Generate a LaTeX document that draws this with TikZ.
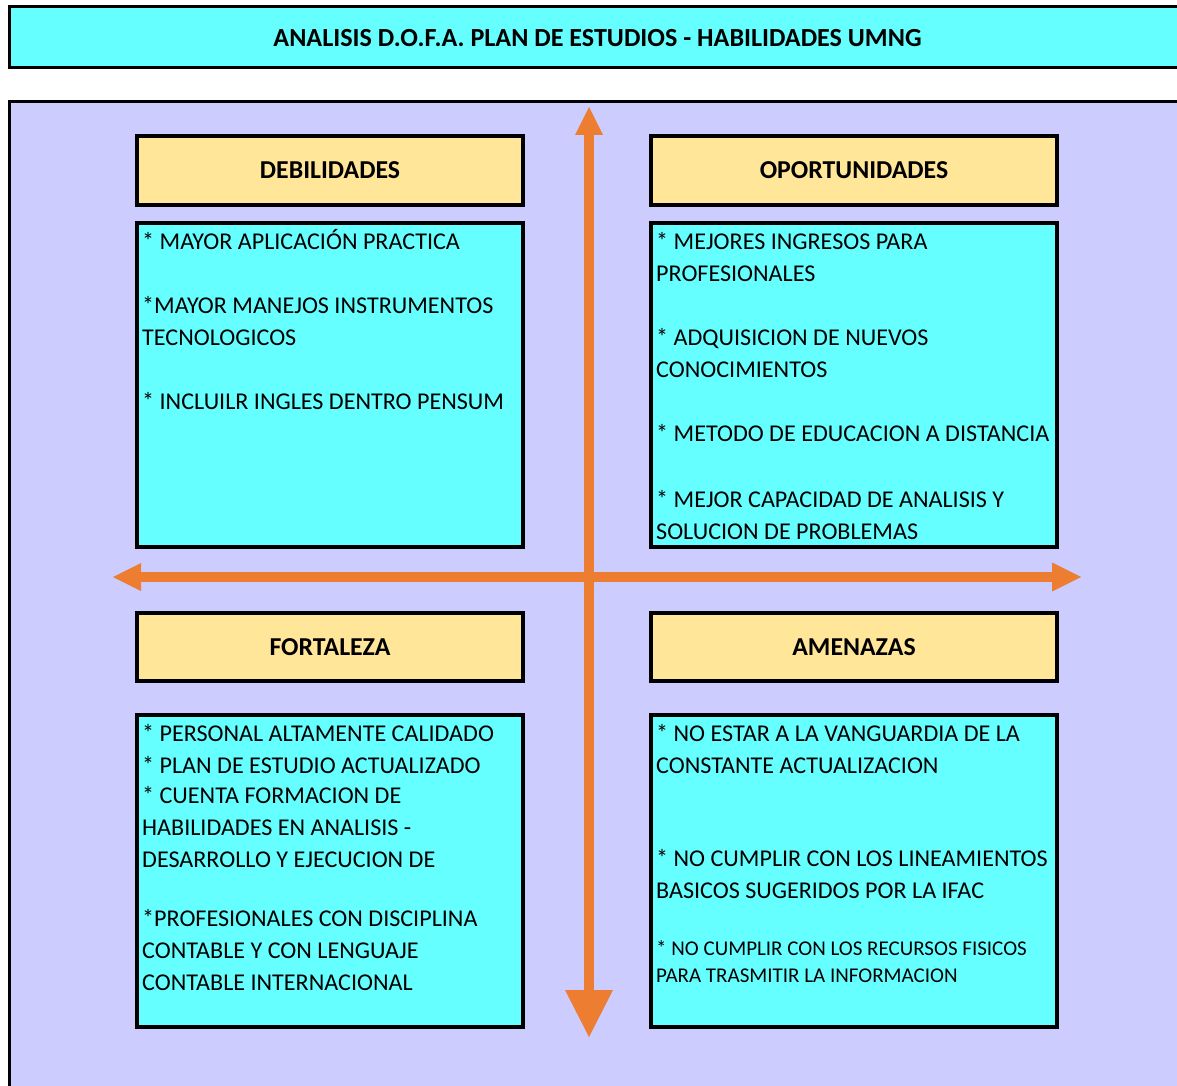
\documentclass[tikz,border=0pt]{standalone}
\usepackage{fontspec}
\setmainfont{Carlito}
\usetikzlibrary{arrows.meta}
\definecolor{cielo}{HTML}{66FFFF}
\definecolor{lila}{HTML}{CCCCFF}
\definecolor{crema}{HTML}{FFE699}
\definecolor{naranja}{HTML}{ED7D31}

\begin{document}
\begin{tikzpicture}[x=1pt,y=-1pt,
  cabeza node/.style={draw=black,line width=4pt,fill=crema,inner sep=0pt,minimum height=68pt,font=\bfseries\fontsize{25.8}{30}\selectfont},
  caja node/.style={draw=black,line width=4pt,fill=cielo,inner sep=0pt},
  texto node/.style={anchor=north west,align=left,inner sep=0pt,font=\fontsize{24.1}{32}\selectfont},
  chico node/.style={anchor=north west,align=left,inner sep=0pt,font=\fontsize{21}{27}\selectfont},
  eje/.style={draw=naranja,line width=10pt}]

\useasboundingbox (0,0) rectangle (1177,1086);

% title bar and background
\node at (597.5,37) [draw=black,line width=3pt,fill=cielo,minimum width=1176pt,minimum height=61pt] (titulo) {};
\node at (597.5,38.5) [font=\bfseries\fontsize{26.1}{30}\selectfont] (titulotxt) {ANALISIS D.O.F.A. PLAN DE ESTUDIOS - HABILIDADES UMNG};
\node at (597.5,598.5) [draw=black,line width=3.5pt,fill=lila,minimum width=1176pt,minimum height=994pt] (fondo) {};

% axes
\coordinate (arriba) at (589,107);
\coordinate (abajo) at (589,1037);
\coordinate (izq) at (113,577);
\coordinate (der) at (1081,577);
\draw[eje,{Triangle[length=28pt,width=28pt,line width=0pt]}-{Triangle[length=29pt,width=29pt,line width=0pt]}] (izq) -- (der);
\draw[eje,{Triangle[length=28pt,width=28pt,line width=0pt]}-{Triangle[length=47pt,width=48pt,line width=0pt]}] (arriba) -- (abajo);

% headers
\node at (330,170.5) [cabeza node,minimum width=386pt] (hdeb) {DEBILIDADES};
\node at (854,170.5) [cabeza node,minimum width=406pt] (hopo) {OPORTUNIDADES};
\node at (330,647) [cabeza node,minimum width=386pt] (hfor) {FORTALEZA};
\node at (854,647) [cabeza node,minimum width=406pt] (hame) {AMENAZAS};

% boxes
\node at (330,385) [caja node,minimum width=386pt,minimum height=324pt] (bdeb) {};
\node at (854,385) [caja node,minimum width=406pt,minimum height=324pt] (bopo) {};
\node at (330,871) [caja node,minimum width=386pt,minimum height=312pt] (bfor) {};
\node at (854,871) [caja node,minimum width=406pt,minimum height=312pt] (bame) {};

% texts
\node at (142,227) [texto node] (tdeb) {\strut* MAYOR APLICACIÓN PRACTICA\\[32pt]
  {*}MAYOR MANEJOS INSTRUMENTOS\\ TECNOLOGICOS\\[32pt]
  {*} INCLUILR INGLES DENTRO PENSUM};
\node at (656,227) [texto node] (topo) {\strut* MEJORES INGRESOS PARA\\ PROFESIONALES\\[32pt]
  {*} ADQUISICION DE NUEVOS\\ CONOCIMIENTOS\\[32pt]
  {*} METODO DE EDUCACION A DISTANCIA\\[34pt]
  {*} MEJOR CAPACIDAD DE ANALISIS Y\\ SOLUCION DE PROBLEMAS};
\node at (142,718.5) [texto node] (tfor) {\strut* PERSONAL ALTAMENTE CALIDADO\\
  {*} PLAN DE ESTUDIO ACTUALIZADO\\[-2pt]
  {*} CUENTA FORMACION DE\\ HABILIDADES EN ANALISIS -\\ DESARROLLO Y EJECUCION DE\\[27pt]
  {*}PROFESIONALES CON DISCIPLINA\\ CONTABLE Y CON LENGUAJE\\ CONTABLE INTERNACIONAL};
\node at (656,718.5) [texto node] (tame) {\strut* NO ESTAR A LA VANGUARDIA DE LA\\ CONSTANTE ACTUALIZACION\\[61pt]
  {*} NO CUMPLIR CON LOS LINEAMIENTOS\\ BASICOS SUGERIDOS POR LA IFAC};
\node at (656,936.5) [chico node] (tame2) {\strut* NO CUMPLIR CON LOS RECURSOS FISICOS\\ PARA TRASMITIR LA INFORMACION};

\end{tikzpicture}
\end{document}
